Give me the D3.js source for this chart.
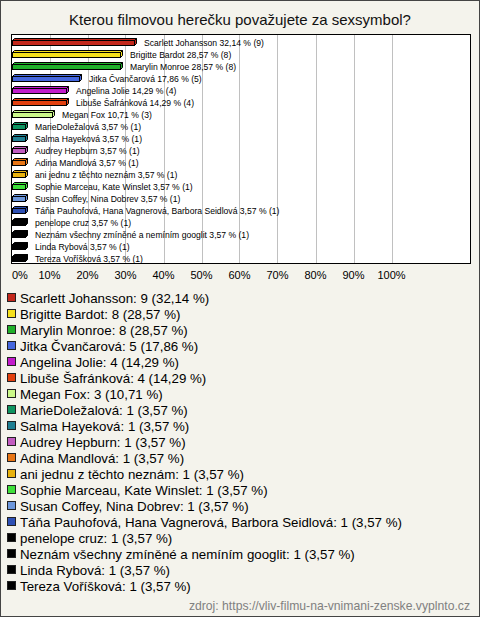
<!DOCTYPE html>
<html><head><meta charset="utf-8">
<script src="https://cdn.jsdelivr.net/npm/d3@7"></script>
<style>body{margin:0;background:#fff}svg{display:block}text{font-family:"Liberation Sans",Arial,sans-serif}</style>
</head><body>
<script>
const categories = ["Scarlett Johansson","Brigitte Bardot","Marylin Monroe","Jitka Čvančarová","Angelina Jolie","Libuše Šafránková","Megan Fox","MarieDoležalová","Salma Hayeková","Audrey Hepburn","Adina Mandlová","ani jednu z těchto neznám","Sophie Marceau, Kate Winslet","Susan Coffey, Nina Dobrev","Táňa Pauhofová, Hana Vagnerová, Barbora Seidlová","penelope cruz","Neznám všechny zmíněné a nemíním googlit","Linda Rybová","Tereza Voříšková"];
const counts = [9,8,8,5,4,4,3,1,1,1,1,1,1,1,1,1,1,1,1];
const percents = [32.14,28.57,28.57,17.86,14.29,14.29,10.71,3.57,3.57,3.57,3.57,3.57,3.57,3.57,3.57,3.57,3.57,3.57,3.57];
const colors = ["#c3281c","#f5e01c","#1fb02a","#4466dd","#c21ccb","#e2400f","#ccf98a","#0e9460","#1f7f92","#c25cc0","#e87514","#e8b20e","#3ee03a","#6c97dc","#2e50b4","#000","#000","#000","#000"];
const ticks = [0,10,20,30,40,50,60,70,80,90,100];
const title = "Kterou filmovou herečku považujete za sexsymbol?";
const source = "zdroj: https://vliv-filmu-na-vnimani-zenske.vyplnto.cz";

const W=480,H=617;
const fmt = v => v.toFixed(2).replace(".",",");
const svg = d3.select("body").append("svg").attr("width",W).attr("height",H);
svg.append("rect").attr("x",0.5).attr("y",0.5).attr("width",W-1).attr("height",H-1).attr("fill","#f4f3ec").attr("stroke","#444");
svg.append("text").attr("x",240).attr("y",25).attr("text-anchor","middle").attr("font-size",15).attr("fill","#111").text(title);

const plot = {l:11.5,r:470.5,t:34.5,b:263.5};
svg.append("rect").attr("x",plot.l).attr("y",plot.t).attr("width",plot.r-plot.l).attr("height",plot.b-plot.t).attr("fill","#fff");
const x = d3.scaleLinear().domain([0,100]).range([11.5,391.5]);
const y = d3.scaleBand().domain(categories).range([35.5,263.5]).paddingInner(0);
svg.append("g").selectAll("line").data(ticks.filter(t=>t>0)).join("line")
  .attr("x1",d=>Math.round(x(d))+0.5).attr("x2",d=>Math.round(x(d))+0.5).attr("y1",plot.t).attr("y2",plot.b)
  .attr("stroke","#c0c0c0");
svg.append("rect").attr("x",plot.l).attr("y",plot.t).attr("width",plot.r-plot.l).attr("height",plot.b-plot.t).attr("fill","none").attr("stroke","#000");

const d=2, h=5;
const bars = svg.append("g").selectAll("g").data(categories).join("g");
bars.each(function(c,i){
  const g=d3.select(this);
  const x0=x(0)+1, x1=Math.round(x(percents[i]))+0.5;
  const cy=Math.round(y(c)+y.bandwidth()/2)+0.5;
  const top=cy-h/2+0.5, bot=cy+h/2+0.5;
  g.append("polygon").attr("points",`${x0},${top} ${x0+d},${top-d} ${x1+d},${top-d} ${x1},${top}`).attr("fill",colors[i]).attr("stroke","#000").attr("stroke-width",1);
  g.append("polygon").attr("points",`${x1},${top} ${x1+d},${top-d} ${x1+d},${bot-d} ${x1},${bot}`).attr("fill",colors[i]).attr("stroke","#000").attr("stroke-width",1);
  g.append("rect").attr("x",x0).attr("y",top).attr("width",x1-x0).attr("height",bot-top).attr("fill",colors[i]).attr("stroke","#000");
  g.append("text").attr("x",x1+d+7.5).attr("y",cy+3.5).attr("font-size",8.6).attr("fill","#000")
   .text(`${c} ${fmt(percents[i])} % (${counts[i]})`);
});

svg.append("g").selectAll("text").data(ticks).join("text")
  .attr("x",d=>d===0?12:x(d)).attr("y",279).attr("text-anchor",d=>d===0?"start":"middle")
  .attr("font-size",11).attr("fill","#000").text(d=>d+"%");

const lg = svg.append("g").selectAll("g").data(categories).join("g")
  .attr("transform",(c,i)=>`translate(0,${298+i*16})`);
lg.append("rect").attr("x",7.5).attr("y",-4.5).attr("width",8).attr("height",8).attr("fill",(c,i)=>colors[i]).attr("stroke","#222");
lg.append("text").attr("x",20).attr("y",5).attr("font-size",13.3).attr("fill","#000")
  .text((c,i)=>`${c}: ${counts[i]} (${fmt(percents[i])} %)`);

svg.append("text").attr("x",470).attr("y",610).attr("text-anchor","end").attr("font-size",12.2).attr("fill","#808080").text(source);
</script>
</body></html>
